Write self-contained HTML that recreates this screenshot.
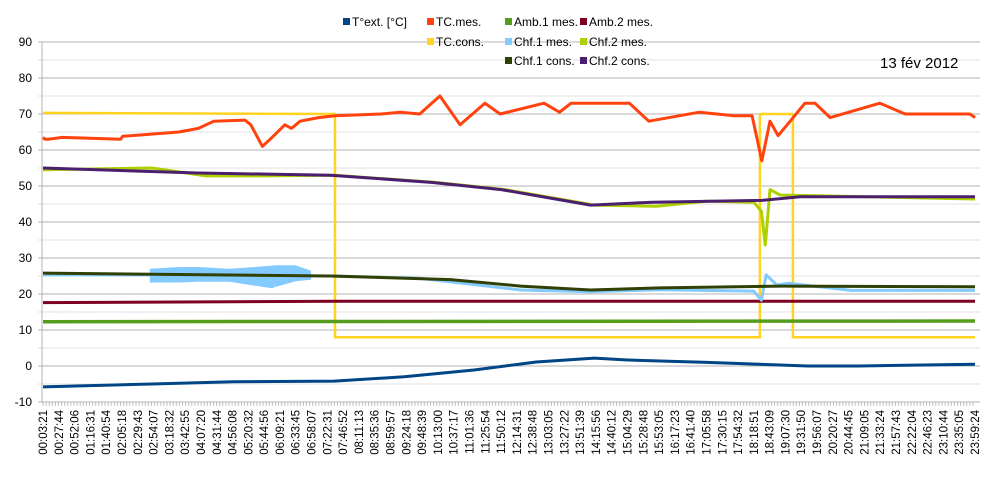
<!DOCTYPE html>
<html><head><meta charset="utf-8"><style>
body{margin:0;background:#fff;}
svg{display:block;font-family:"Liberation Sans",sans-serif;}
</style></head><body>
<svg id="chart" width="1000" height="500">
<g id="grid"></g>
<g id="series"></g>
<g id="axes"></g>
<g id="legend"></g>
<text x="880" y="68" font-size="15" fill="#000">13 fév 2012</text>
</svg>
<script>
const timeLabels=["00:03:21","00:27:44","00:52:06","01:16:31","01:40:54","02:05:18","02:29:43","02:54:07","03:18:32","03:42:55","04:07:20","04:31:44","04:56:08","05:20:32","05:44:56","06:09:21","06:33:45","06:58:07","07:22:31","07:46:52","08:11:13","08:35:36","08:59:57","09:24:18","09:48:39","10:13:00","10:37:17","11:01:36","11:25:54","11:50:12","12:14:31","12:38:48","13:03:05","13:27:22","13:51:39","14:15:56","14:40:12","15:04:29","15:28:48","15:53:05","16:17:23","16:41:40","17:05:58","17:30:15","17:54:32","18:18:51","18:43:09","19:07:30","19:31:50","19:56:07","20:20:27","20:44:45","21:09:05","21:33:24","21:57:43","22:22:04","22:46:23","23:10:44","23:35:05","23:59:24"];
const yTicks=[-10,0,10,20,30,40,50,60,70,80,90];
const names=["T°ext. [°C]","TC.mes.","Amb.1 mes.","Amb.2 mes.","TC.cons.","Chf.1 mes.","Chf.2 mes.","Chf.1 cons.","Chf.2 cons."];
const colors=["#004586","#ff420e","#579d1c","#7e0021","#ffd320","#83caff","#aecf00","#314004","#4b1f6f"];
const extH=[0,2.8,4.9,7.5,9.3,11.1,12.7,14.2,15,17.1,19.7,21,24];
const extV=[-5.8,-5,-4.4,-4.2,-3,-1.1,1.1,2.2,1.7,1,0,0,0.5];
const tcmH=[0,0.05,0.15,0.5,2,2.05,3.5,4,4.4,5.2,5.35,5.65,5.85,6.23,6.4,6.62,7.1,7.52,8.7,9.2,9.7,10.22,10.74,11.38,11.77,12.9,13.3,13.6,15.1,15.6,16.9,17.8,18.26,18.51,18.72,18.93,19.24,19.62,19.88,20.27,21.55,22.2,23.87,24];
const tcmV=[63.5,63,63,63.5,63,63.8,65,66,68,68.3,67,61,63,67,66,68,69,69.5,70,70.5,70,75,67,73,70,73,70.5,73,73,68,70.5,69.5,69.5,57,68,64,68,73,73,69,73,70,70,69];
const amb1H=[0,24];const amb1V=[12.3,12.5];
const amb2H=[0,7.5,24];const amb2V=[17.6,18,18];
const tccH=[0,7.52,7.52,18.46,18.46,19.31,19.31,24];
const tccV=[70.3,70,8,8,70,70,8,8];
const chf1H=[0,2.7,4.8,5.6,5.9,6.2,6.9,7.5,9.7,12.3,14.1,15.9,18.3,18.5,18.62,18.9,19.2,20.8,24];
const chf1V=[25.3,25.3,25,22.5,22,24,25,25,24.4,21.1,20.6,21.2,20.8,18.3,25.3,22.5,23,21,21];
const chf1BandH=[2.75,3.5,4.0,4.8,5.45,6.0,6.5,6.9];
const chf1BandLo=[23.2,23.2,23.4,23.4,22.3,22.0,23.5,24];
const chf1BandHi=[27.0,27.5,27.5,27.0,27.5,28.0,28.0,26.5];
const chf2H=[0,2.8,4.2,5.7,7.5,10.1,11.9,14.2,15.8,17.1,18.3,18.5,18.6,18.72,18.98,24];
const chf2V=[54.5,55,52.8,52.8,53,51,49,44.7,44.4,45.8,45.5,43,33.6,49,47.5,46.4];
const c1cH=[0,7.4,10.5,12.3,14.1,15.9,19,24];
const c1cV=[25.8,25,24,22.2,21.1,21.7,22.2,22];
const c2cH=[0,4,7.4,10,11.8,14.1,15.7,18.5,19.5,24];
const c2cV=[55,53.6,53,51,49,44.7,45.5,46,47,47];

const X0=43,XW=932,Y0=366,YS=3.6;
const xs=h=>X0+h/24*XW, ys=v=>Y0-v*YS;
const NS="http://www.w3.org/2000/svg";
function mk(tag,parent){const e=document.createElementNS(NS,tag);parent.appendChild(e);return e;}
const grid=document.getElementById('grid'),axes=document.getElementById('axes'),ser=document.getElementById('series'),leg=document.getElementById('legend');
for(let v=-10;v<=90;v+=5){
  const l=mk('line',grid);
  
  
  l.setAttribute('x1',38);l.setAttribute('x2',980);l.setAttribute('y1',ys(v));l.setAttribute('y2',ys(v));
  l.setAttribute('stroke',v%10===0?'#b3b3b3':'#e0e0e0');l.setAttribute('stroke-width',1);
}
yTicks.forEach(v=>{
  const t=mk('text',axes);
  
  
  t.setAttribute('x',32);t.setAttribute('y',ys(v)+4);t.setAttribute('text-anchor','end');t.setAttribute('font-size',12);
  t.textContent=v;
});
const ax=mk('line',axes);


ax.setAttribute('x1',42);ax.setAttribute('x2',42);ax.setAttribute('y1',ys(90));ax.setAttribute('y2',ys(-10));ax.setAttribute('stroke','#b3b3b3');
for(let x=43;x<=976;x+=3.1){
  const l=mk('line',axes);
  
  
  l.setAttribute('x1',x);l.setAttribute('x2',x);l.setAttribute('y1',402);l.setAttribute('y2',406);l.setAttribute('stroke','#c0c0c0');
}
timeLabels.forEach((s,i)=>{
  const x=X0+i*XW/(timeLabels.length-1)+4;
  const t=mk('text',axes);
  
  
  t.setAttribute('transform',`translate(${x},410) rotate(-90)`);t.setAttribute('text-anchor','end');t.setAttribute('font-size',11.5);
  t.textContent=s;
});
const seriesData=[[tccH,tccV,4,2.5],[amb1H,amb1V,2,3.5],[amb2H,amb2V,3,3],[extH,extV,0,3],[chf1H,chf1V,5,3],[c1cH,c1cV,7,3],[chf2H,chf2V,6,3],[c2cH,c2cV,8,3],[tcmH,tcmV,1,3]];
const snames=["tc-cons-line","amb1-line","amb2-line","text-line","chf1-mes-line","chf1-cons-line","chf2-mes-line","chf2-cons-line","tc-mes-line"];
seriesData.forEach((d,k)=>{
  if(k===4){
    const band=mk('polygon',ser);
    
    
    const top=chf1BandH.map((h,i)=>xs(h).toFixed(1)+','+ys(chf1BandHi[i]).toFixed(1));
    const bot=chf1BandH.map((h,i)=>xs(h).toFixed(1)+','+ys(chf1BandLo[i]).toFixed(1)).reverse();
    band.setAttribute('points',top.concat(bot).join(' '));
    band.setAttribute('fill',colors[5]);
  }
  const p=mk('polyline',ser);
  
  
  p.setAttribute('points',d[0].map((h,i)=>xs(h).toFixed(1)+','+ys(d[1][i]).toFixed(1)).join(' '));
  p.setAttribute('fill','none');p.setAttribute('stroke',colors[d[2]]);p.setAttribute('stroke-width',d[3]);p.setAttribute('stroke-linejoin','round');
});
const legPos=[[343,22],[427,22],[505,22],[580,22],[427,42],[505,42],[580,42],[505,61],[580,61]];
names.forEach((n,i)=>{
  const [x,y]=legPos[i];
  const r=mk('rect',leg);
  
  
  r.setAttribute('x',x);r.setAttribute('y',y-4);r.setAttribute('width',7);r.setAttribute('height',7);r.setAttribute('fill',colors[i]);
  const t=mk('text',leg);
  
  
  t.setAttribute('x',x+9);t.setAttribute('y',y+4);t.setAttribute('font-size',12);
  t.textContent=n;
});
</script>
</body></html>
